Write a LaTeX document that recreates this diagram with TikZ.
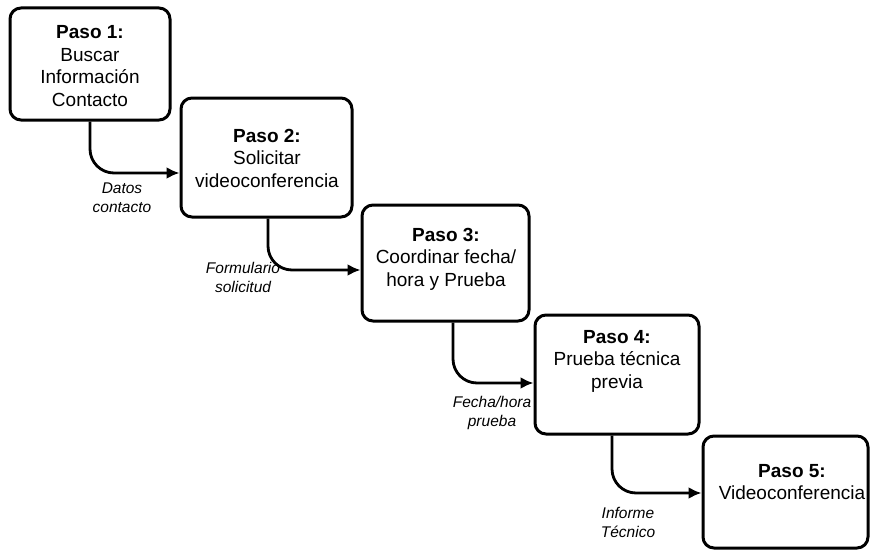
\documentclass[tikz,border=0pt]{standalone}
\usepackage{fontspec}
\setmainfont{Liberation Sans}
\usetikzlibrary{arrows.meta}
\tikzset{
  stepbox/.style={draw=black, line width=3pt, rounded corners=11pt, inner sep=0pt, fill=white},
  steptxt/.style={align=center, inner sep=0pt, font=\fontsize{19}{22.5}\selectfont},
  flowlbl/.style={align=center, inner sep=0pt, font=\fontsize{15.5}{19}\selectfont\itshape},
  flow/.style={draw=black, line width=2.8pt, rounded corners=24pt, -{Latex[length=13pt,width=12pt]}}
}
\begin{document}
\begin{tikzpicture}[x=1pt,y=-1pt]
\useasboundingbox[fill=white] (0,0) rectangle (873,551);
% boxes
\node[stepbox, minimum width=160pt, minimum height=112pt] (b1) at (90,64) {};
\node[stepbox, minimum width=171pt, minimum height=119pt] (b2) at (266.5,157.5) {};
\node[stepbox, minimum width=167pt, minimum height=116pt] (b3) at (445.5,263) {};
\node[stepbox, minimum width=164pt, minimum height=119pt] (b4) at (617,374.5) {};
\node[stepbox, minimum width=165pt, minimum height=112pt] (b5) at (785.5,492) {};
% texts
\node[steptxt] (t1) at (90,66) {\textbf{Paso 1:}\\Buscar\\Información\\Contacto};
\node[steptxt] (t2) at (267,158) {\textbf{Paso 2:}\\Solicitar\\videoconferencia};
\node[steptxt] (t3) at (446,259) {\textbf{Paso 3:}\\Coordinar fecha/\\hora y Prueba};
\node[steptxt] (t4) at (617,361) {\textbf{Paso 4:}\\Prueba técnica\\previa};
\node[steptxt] (t5) at (792,482) {\textbf{Paso 5:}\\Videoconferencia};
% connector corner coordinates
\coordinate (c1) at (90,173);
\coordinate (c2) at (268,270);
\coordinate (c3) at (453,383);
\coordinate (c4) at (612,493);
\draw[flow] (b1.south -| c1) -- (c1) -- (c1 -| b2.west);
\draw[flow] (b2.south -| c2) -- (c2) -- (c2 -| b3.west);
\draw[flow] (b3.south -| c3) -- (c3) -- (c3 -| b4.west);
\draw[flow] (b4.south -| c4) -- (c4) -- (c4 -| b5.west);
% labels
\node[flowlbl] (l1) at (122,197.5) {Datos\\contacto};
\node[flowlbl] (l2) at (243,277.5) {Formulario\\solicitud};
\node[flowlbl] (l3) at (492,412.5) {Fecha/hora\\prueba};
\node[flowlbl] (l4) at (628,522.5) {Informe\\Técnico};
\end{tikzpicture}
\end{document}
